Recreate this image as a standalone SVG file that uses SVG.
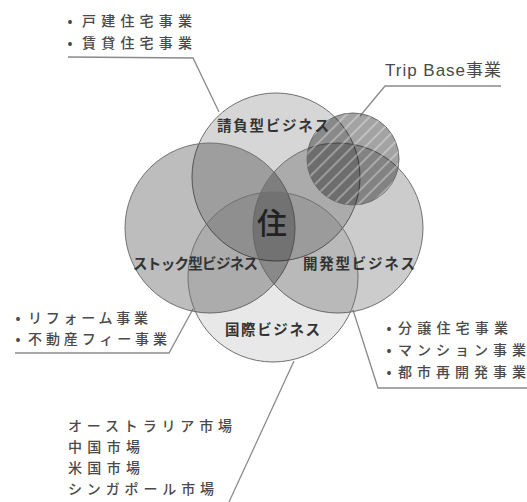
<svg xmlns="http://www.w3.org/2000/svg" width="527" height="502" viewBox="0 0 527 502">
<style>
.c{stroke:#707070;stroke-width:1}
.lead{fill:none;stroke:#8a8a8a;stroke-width:1.3}
.t{font-family:"Noto Sans CJK JP","Noto Sans",sans-serif;font-size:14px;font-weight:500;fill:#4a4a4a;dominant-baseline:central}
.b{font-family:"Noto Sans CJK JP","Noto Sans",sans-serif;font-size:14.5px;font-weight:bold;fill:#333333;dominant-baseline:central}
.lat{font-family:"Liberation Sans","Noto Sans CJK JP",sans-serif;font-size:17px;fill:#4a4a4a;dominant-baseline:central}
</style>
<defs>
<pattern id="stripes" patternUnits="userSpaceOnUse" width="9" height="9" patternTransform="rotate(45)">
<line x1="2" y1="0" x2="2" y2="9" stroke="#ffffff" stroke-opacity="0.4" stroke-width="1.6"/>
</pattern>
</defs>
<rect width="527" height="502" fill="#ffffff"/>

<g id="connectors">
<polyline class="lead" points="68,57 193,58 219,112"/>
<polyline class="lead" points="501,86 385,86 360,116"/>
<polyline class="lead" points="15,353 169,353 193,309"/>
<polyline class="lead" points="353,310 378,388 527,388"/>
<polyline class="lead" points="294,361 229,502"/>
</g>

<g id="node-ukeoi">
<circle class="c" cx="276" cy="177" r="84" fill="#000" fill-opacity="0.16"/>
</g>
<g id="node-stock">
<circle class="c" cx="210" cy="228" r="85" fill="#000" fill-opacity="0.26"/>
</g>
<g id="node-kaihatsu">
<circle class="c" cx="338" cy="228" r="85" fill="#000" fill-opacity="0.2"/>
</g>
<g id="node-kokusai">
<circle class="c" cx="273" cy="277" r="85" fill="#000" fill-opacity="0.09"/>
</g>
<g id="node-tripbase">
<circle cx="353" cy="159" r="46" fill="#000" fill-opacity="0.36" stroke="#6a6a6a" stroke-width="1"/>
<circle cx="353" cy="159" r="46" fill="url(#stripes)"/>
</g>

<g id="labels">
<text class="b" x="217" y="124" textLength="112" lengthAdjust="spacing">請負型ビジネス</text>
<text class="b" x="133" y="262" textLength="125" lengthAdjust="spacing">ストック型ビジネス</text>
<text class="b" x="303" y="262" textLength="112" lengthAdjust="spacing">開発型ビジネス</text>
<text class="b" x="225" y="328" textLength="95" lengthAdjust="spacing">国際ビジネス</text>
<text x="272" y="221" text-anchor="middle" dominant-baseline="central" font-family="Noto Sans CJK JP, Noto Sans, sans-serif" font-size="30" font-weight="500" fill="#222222">住</text>
</g>

<g id="node-ukeoi-text">
<text class="t" x="70" y="20" text-anchor="middle">•</text>
<text class="t" x="82" y="20" textLength="110" lengthAdjust="spacing">戸建住宅事業</text>
<text class="t" x="70" y="42" text-anchor="middle">•</text>
<text class="t" x="82" y="42" textLength="110" lengthAdjust="spacing">賃貸住宅事業</text>
</g>
<g id="node-tripbase-text">
<text class="lat" x="385" y="70" textLength="116" lengthAdjust="spacing">Trip Base事業</text>
</g>
<g id="node-stock-text">
<text class="t" x="18" y="317" text-anchor="middle">•</text>
<text class="t" x="28" y="317" textLength="120" lengthAdjust="spacing">リフォーム事業</text>
<text class="t" x="18" y="338" text-anchor="middle">•</text>
<text class="t" x="28" y="338" textLength="139" lengthAdjust="spacing">不動産フィー事業</text>
</g>
<g id="node-kaihatsu-text">
<text class="t" x="389" y="327" text-anchor="middle">•</text>
<text class="t" x="398" y="327" textLength="110" lengthAdjust="spacing">分譲住宅事業</text>
<text class="t" x="389" y="349" text-anchor="middle">•</text>
<text class="t" x="398" y="349" textLength="128" lengthAdjust="spacing">マンション事業</text>
<text class="t" x="389" y="371" text-anchor="middle">•</text>
<text class="t" x="398" y="371" textLength="128" lengthAdjust="spacing">都市再開発事業</text>
</g>
<g id="node-kokusai-text">
<text class="t" x="68" y="425" textLength="164" lengthAdjust="spacing">オーストラリア市場</text>
<text class="t" x="68" y="446" textLength="72" lengthAdjust="spacing">中国市場</text>
<text class="t" x="68" y="467" textLength="72" lengthAdjust="spacing">米国市場</text>
<text class="t" x="68" y="488" textLength="146" lengthAdjust="spacing">シンガポール市場</text>
</g>
</svg>
